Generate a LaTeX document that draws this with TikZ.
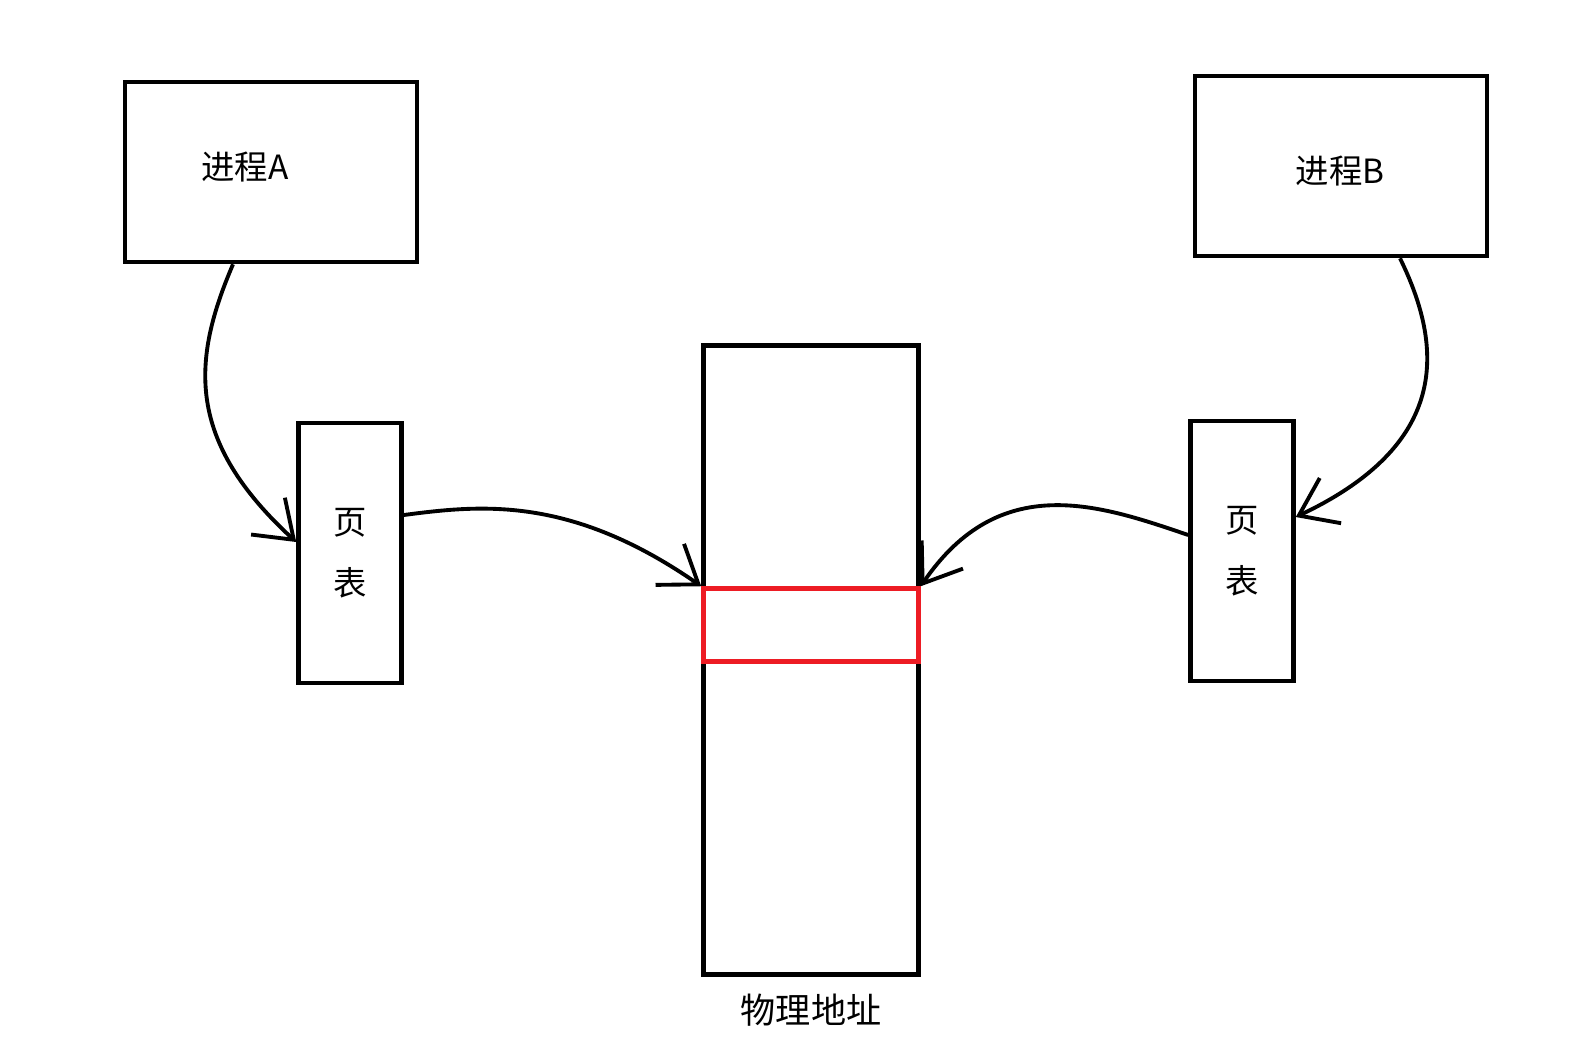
\documentclass[tikz,border=0pt]{standalone}
\usepackage{fontspec}
\setmainfont{Noto Sans CJK SC}
\usetikzlibrary{positioning,arrows.meta}
\definecolor{paintred}{RGB}{237,28,36}
\begin{document}
\begin{tikzpicture}[
            x=0.02cm, y=-0.02cm,
            box/.style={draw, line width=2.6pt, inner sep=0pt},
            link/.style={line width=2.2pt, -{Straight Barb[length=7mm, width=10mm]}},
            word/.style={font=\fontsize{19}{22}\selectfont}
        ]
            \useasboundingbox (0,0) rectangle (1589,1042);
            % boxes
            \node[box, minimum width=5.84cm, minimum height=3.6cm] (procA) at (271,172) {};
            \node[box, minimum width=5.84cm, minimum height=3.6cm] (procB) at (1341,166) {};
            \node[box, minimum width=2.06cm, minimum height=5.2cm, word, align=center] (pageA) at (350,553) {页\\[0.45cm]表};
            \node[box, minimum width=2.06cm, minimum height=5.2cm, word, align=center] (pageB) at (1242,551) {页\\[0.45cm]表};
            \node[box, minimum width=4.3cm, minimum height=12.58cm] (mem) at (811,660) {};
            \node[box, draw=paintred, minimum width=4.3cm, minimum height=1.46cm] (slot) at (811,625) {};
            % labels
            \node[word] (nameA) at (245,167) {进程A};
            \node[word] (nameB) at (1340,171) {进程B};
            \node[word, font=\fontsize{20}{24}\selectfont, below=0.22cm of mem] (memname) {物理地址};
            % arrows
            \draw[link] ([xshift=-0.76cm]procA.south) .. controls (192,360) and (185,440) .. ([yshift=0.22cm]pageA.west);
            \draw[link] ([yshift=0.76cm]pageA.east) .. controls (480,505) and (570,495) .. (slot.north west);
            \draw[link] ([xshift=1.18cm]procB.south) .. controls (1445,350) and (1448,445) .. ([yshift=0.68cm]pageB.east);
            \draw[link] ([yshift=0.32cm]pageB.west) .. controls (1100,505) and (1000,470) .. (slot.north east);
        \end{tikzpicture}
\end{document}
